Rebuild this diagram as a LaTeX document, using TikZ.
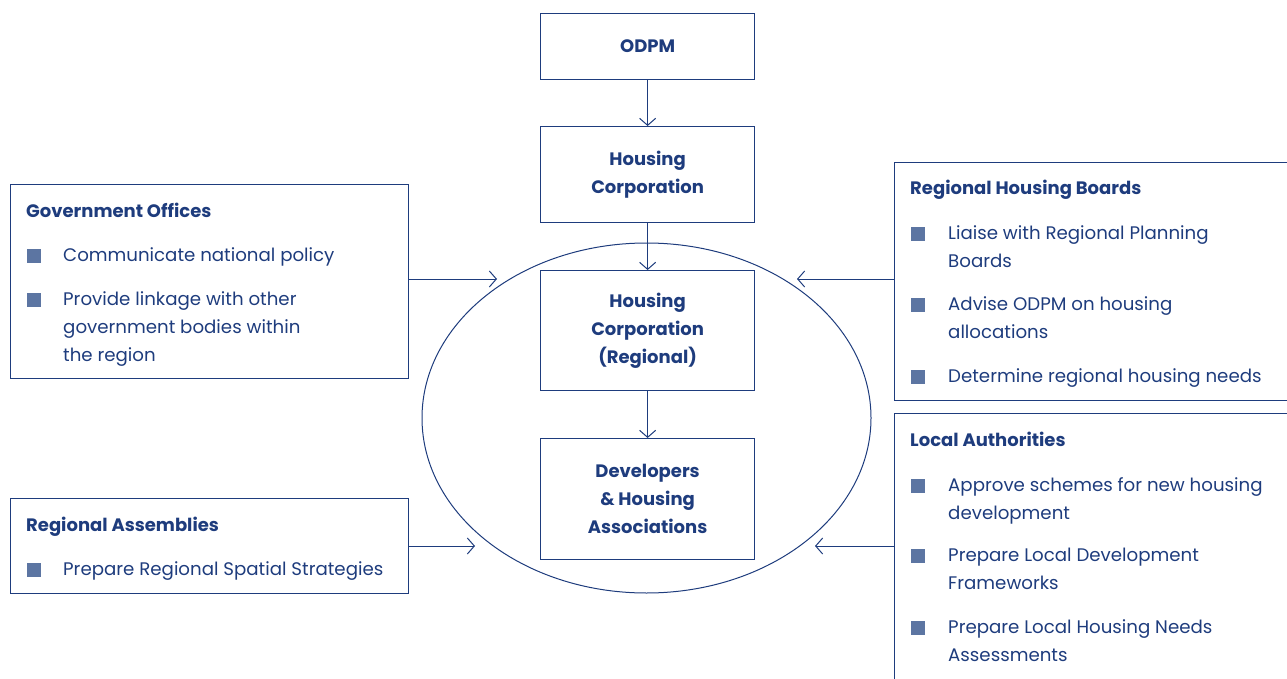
\documentclass[tikz,border=0pt]{standalone}
\usepackage{fontspec}
\setmainfont{Poppins}
\usetikzlibrary{arrows.meta}
\definecolor{dblue}{RGB}{30,60,125}
\definecolor{bulc}{RGB}{92,117,162}
\tikzset{
  box/.style={draw=dblue, line width=1.2pt, rectangle, inner sep=0pt, anchor=north west},
  cbox/.style={box, minimum width=214pt, text=dblue, align=center, font=\bfseries\fontsize{18}{28}\selectfont},
  ttl/.style={font=\bfseries\fontsize{18}{28}\selectfont, text=dblue, anchor=base west, inner sep=0pt},
  itm/.style={font=\fontsize{18.2}{28}\selectfont, text=dblue, anchor=base west, inner sep=0pt},
  bsq/.style={fill=bulc, minimum size=14pt, inner sep=0pt, anchor=center},
  arr/.style={draw=dblue, line width=1pt, -{Straight Barb[length=7pt,width=16pt,line width=1pt]}}
}
\begin{document}
\begin{tikzpicture}[x=1pt,y=-1pt]
\useasboundingbox (0,0) rectangle (1287,679);
% central boxes
\node[cbox, minimum height=66pt] (odpm) at (540,13) {ODPM};
\node[cbox, minimum height=96pt] (hc) at (540,126) {Housing\\Corporation};
\node[cbox, minimum height=120pt] (hcr) at (540,270) {Housing\\Corporation\\(Regional)};
\node[cbox, minimum height=121pt] (dev) at (540,438) {Developers\\\& Housing\\Associations};
\draw[dblue, line width=1pt] (646.5,418) ellipse [x radius=224.5, y radius=175];
\draw[arr] (odpm.south) -- (hc.north);
\draw[arr] (hc.south) -- (hcr.north);
\draw[arr] (hcr.south) -- (dev.north);

% Government Offices
\node[box, minimum width=398pt, minimum height=194pt] (go) at (10,184) {};
\node[ttl] (got) at (26,218) {Government Offices};
\node[bsq] (gob1) at (33.5,255.5) {};
\node[itm] (go1) at (63,261) {Communicate national policy};
\node[bsq] (gob2) at (33.5,299.5) {};
\node[itm] (go2a) at (63,305) {Provide linkage with other};
\node[itm] (go2b) at (63,333) {government bodies within};
\node[itm] (go2c) at (63,361) {the region};
\coordinate (goT) at (497,279);
\draw[arr] (go.east |- goT) -- (goT);

% Regional Assemblies
\node[box, minimum width=398pt, minimum height=95pt] (ra) at (10,498) {};
\node[ttl] (rat) at (26,531) {Regional Assemblies};
\node[bsq] (rab1) at (33.5,569.5) {};
\node[itm] (ra1) at (63,575) {Prepare Regional Spatial Strategies};
\coordinate (raT) at (475,546);
\draw[arr] (ra.east |- raT) -- (raT);

% Regional Housing Boards
\node[box, minimum width=400pt, minimum height=238pt] (rhb) at (894,162) {};
\node[ttl] (rhbt) at (910,194) {Regional Housing Boards};
\node[bsq] (rhbb1) at (917.5,233.5) {};
\node[itm] (rhb1a) at (948,239) {Liaise with Regional Planning};
\node[itm] (rhb1b) at (948,267) {Boards};
\node[bsq] (rhbb2) at (917.5,304.5) {};
\node[itm] (rhb2a) at (948,310) {Advise ODPM on housing};
\node[itm] (rhb2b) at (948,338) {allocations};
\node[bsq] (rhbb3) at (917.5,376.5) {};
\node[itm] (rhb3) at (948,382) {Determine regional housing needs};
\coordinate (rhbT) at (797,279);
\draw[arr] (rhb.west |- rhbT) -- (rhbT);

% Local Authorities
\node[box, minimum width=400pt, minimum height=280pt] (la) at (894,413) {};
\node[ttl] (lat) at (910,446) {Local Authorities};
\node[bsq] (lab1) at (917.5,485.5) {};
\node[itm] (la1a) at (948,491) {Approve schemes for new housing};
\node[itm] (la1b) at (948,519) {development};
\node[bsq] (lab2) at (917.5,555.5) {};
\node[itm] (la2a) at (948,561) {Prepare Local Development};
\node[itm] (la2b) at (948,589) {Frameworks};
\node[bsq] (lab3) at (917.5,627.5) {};
\node[itm] (la3a) at (948,633) {Prepare Local Housing Needs};
\node[itm] (la3b) at (948,661) {Assessments};
\coordinate (laT) at (815,546);
\draw[arr] (la.west |- laT) -- (laT);
\end{tikzpicture}
\end{document}
